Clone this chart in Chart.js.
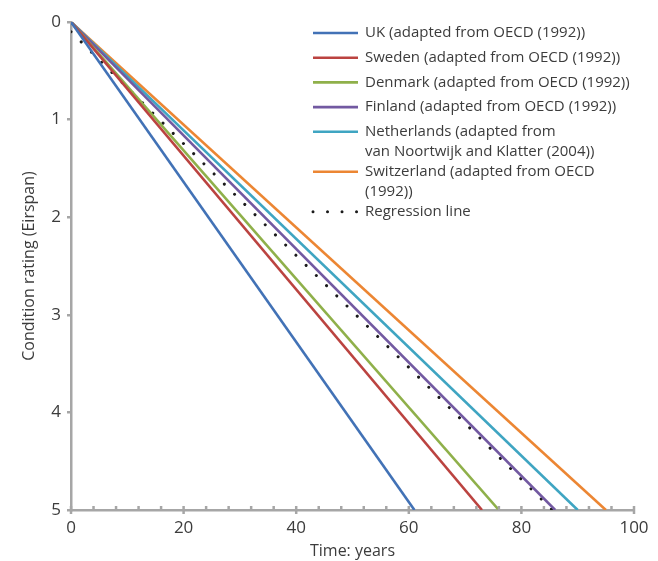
<!DOCTYPE html>
<html>
<head>
<meta charset="utf-8">
<script src="https://cdn.jsdelivr.net/npm/chart.js@4.4.1/dist/chart.umd.min.js"></script>
<style>
  html, body { margin: 0; padding: 0; background: #fff; }
  #wrap { width: 658px; height: 561px; }
</style>
</head>
<body>
<div id="wrap"><canvas id="chart"></canvas></div>
<script>
// series: straight deterioration lines, rating 0 at year 0 down to rating 5
const seriesLabels = [
  ['UK (adapted from OECD (1992))'],
  ['Sweden (adapted from OECD (1992))'],
  ['Denmark (adapted from OECD (1992))'],
  ['Finland (adapted from OECD (1992))'],
  ['Netherlands (adapted from', 'van Noortwijk and Klatter (2004))'],
  ['Switzerland (adapted from OECD', '(1992))']
];
const startYears = [0, 0, 0, 0, 0, 0];
const endYears = [61, 73, 76, 86, 90, 95];
const ratings = [0, 5];

const regressionLabel = ['Regression line'];
const regressionYears = [0, 85.5];
const regressionRatings = [0.1, 5];

const xTickLabels = [0, 20, 40, 60, 80, 100];
const yTickLabels = [0, 1, 2, 3, 4, 5];

const colors = ['#4272b6', '#bb4340', '#8fb04a', '#7259a1', '#3fa5c2', '#ec8633'];
const axisGrey = '#a6a6a6';
const textColor = '#3c3c3c';
const fontFamily = '"Open Sans", "Noto Sans", sans-serif';

const datasets = endYears.map((end, i) => ({
  label: seriesLabels[i].join(' '),
  data: [{x: startYears[i], y: ratings[0]}, {x: end, y: ratings[1]}],
  borderColor: colors[i],
  borderWidth: 2.6,
  pointRadius: 0,
  fill: false
}));
datasets.push({
  label: regressionLabel[0],
  data: regressionYears.map((x, i) => ({x: x, y: regressionRatings[i]})),
  borderColor: '#1a1a1a',
  borderWidth: 3,
  borderDash: [0.01, 14.4],
  borderCapStyle: 'round',
  pointRadius: 0,
  fill: false
});

// x axis: major ticks cross the axis, minor ticks sit on top of it
const xTickPlugin = {
  id: 'xTicks',
  afterDatasetsDraw(chart) {
    const sx = chart.scales.x;
    const y0 = chart.chartArea.bottom;
    const ctx = chart.ctx;
    ctx.save();
    ctx.strokeStyle = axisGrey;
    ctx.lineWidth = 2.5;
    sx.ticks.forEach(t => {
      const px = sx.getPixelForValue(t.value);
      ctx.beginPath();
      if (xTickLabels.includes(t.value)) {
        ctx.moveTo(px, y0 - 4);
        ctx.lineTo(px, y0 + 4);
      } else {
        ctx.moveTo(px, y0 - 4);
        ctx.lineTo(px, y0);
      }
      ctx.stroke();
    });
    ctx.restore();
  }
};

const legendPlugin = {
  id: 'sideLegend',
  afterDraw(chart) {
    const ctx = chart.ctx;
    const items = seriesLabels.map((l, i) => ({lines: l, color: colors[i], dotted: false}));
    items.push({lines: regressionLabel, color: '#1a1a1a', dotted: true});
    let y = 33;
    ctx.save();
    ctx.font = '15px ' + fontFamily;
    ctx.textBaseline = 'middle';
    items.forEach(item => {
      ctx.beginPath();
      ctx.strokeStyle = item.color;
      if (item.dotted) {
        ctx.lineWidth = 3;
        ctx.lineCap = 'round';
        ctx.setLineDash([0.01, 14.5]);
      } else {
        ctx.lineWidth = 2.6;
        ctx.lineCap = 'butt';
        ctx.setLineDash([]);
      }
      ctx.moveTo(313, y);
      ctx.lineTo(358, y);
      ctx.stroke();
      ctx.fillStyle = textColor;
      item.lines.forEach((t, k) => ctx.fillText(t, 365, y + k * 20));
      y += item.lines.length === 1 ? 24.7 : 40;
    });
    ctx.restore();
  }
};

new Chart(document.getElementById('chart'), {
  type: 'line',
  data: { datasets: datasets },
  options: {
    responsive: true,
    maintainAspectRatio: false,
    animation: false,
    layout: { padding: { top: 22, right: 24, bottom: 0, left: 0 } },
    plugins: { legend: { display: false }, tooltip: { enabled: false } },
    scales: {
      x: {
        type: 'linear',
        min: 0,
        max: 100,
        afterFit: s => { s.height = 51; },
        ticks: {
          stepSize: 4,
          autoSkip: false,
          maxRotation: 0,
          padding: 8,
          color: textColor,
          font: { family: fontFamily, size: 17 },
          callback: v => xTickLabels.includes(v) ? v : ''
        },
        grid: { drawOnChartArea: false, drawTicks: false },
        border: { color: axisGrey, width: 2.5 },
        title: {
          display: true,
          text: 'Time: years',
          color: textColor,
          font: { family: fontFamily, size: 16 },
          padding: { top: 0, bottom: 0 }
        }
      },
      y: {
        type: 'linear',
        reverse: true,
        min: 0,
        max: 5,
        afterFit: s => { s.width = 71; },
        ticks: {
          stepSize: 1,
          padding: 6,
          color: textColor,
          font: { family: fontFamily, size: 17 },
          callback: v => yTickLabels.includes(v) ? v : ''
        },
        grid: { drawOnChartArea: false, tickLength: 4, color: axisGrey, lineWidth: 2.5 },
        border: { color: axisGrey, width: 2.5 },
        title: {
          display: true,
          text: 'Condition rating (Eirspan)',
          color: textColor,
          font: { family: fontFamily, size: 16 },
          padding: { top: 20, bottom: 0 }
        }
      }
    }
  },
  plugins: [xTickPlugin, legendPlugin]
});
</script>
</body>
</html>
